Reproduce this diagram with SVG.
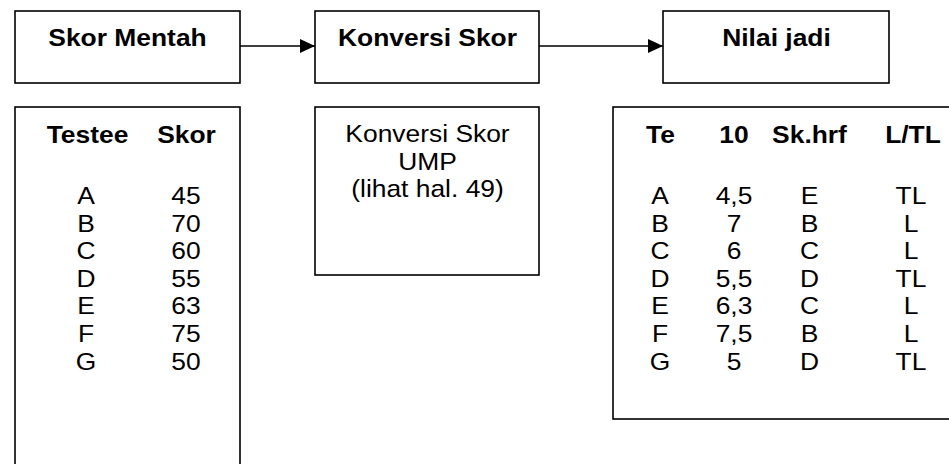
<svg xmlns="http://www.w3.org/2000/svg" width="949" height="464" viewBox="0 0 949 464">
<style>
.box{fill:#fff;stroke:#000;stroke-width:1.6}
.t{font-family:"Liberation Sans",Arial,sans-serif;font-size:24px;fill:#000;text-anchor:middle}
.b{font-weight:bold}
.con{stroke:#000;stroke-width:1.6;fill:none}
</style>
<defs>
<marker id="ah" markerUnits="userSpaceOnUse" markerWidth="16" markerHeight="14" refX="15" refY="7" orient="auto">
<path d="M0,0 L15,7 L0,14 z" fill="#000"/>
</marker>
</defs>
<rect width="949" height="464" fill="#fff"/>
<g id="connectors">
<line class="con" x1="240" y1="46" x2="315" y2="46" marker-end="url(#ah)"/>
<line class="con" x1="539" y1="46" x2="663" y2="46" marker-end="url(#ah)"/>
</g>
<g id="skor-mentah">
<rect class="box" x="15" y="11" width="225" height="72"/>
<text class="t b" transform="translate(127.5,46) scale(1.1,1)">Skor Mentah</text>
</g>
<g id="konversi-skor">
<rect class="box" x="315" y="11" width="224" height="72"/>
<text class="t b" transform="translate(427.5,46) scale(1.1,1)">Konversi Skor</text>
</g>
<g id="nilai-jadi">
<rect class="box" x="663" y="11" width="226" height="72"/>
<text class="t b" transform="translate(776.5,46) scale(1.1,1)">Nilai jadi</text>
</g>
<g id="tabel-skor">
<rect class="box" x="15" y="107" width="225" height="380"/>
<text class="t b" transform="translate(87.5,143) scale(1.1,1)">Testee</text>
<text class="t b" transform="translate(186.5,143) scale(1.1,1)">Skor</text>
<text class="t" transform="translate(86,204) scale(1.1,1)">A</text>
<text class="t" transform="translate(186,204) scale(1.1,1)">45</text>
<text class="t" transform="translate(86,231.6) scale(1.1,1)">B</text>
<text class="t" transform="translate(186,231.6) scale(1.1,1)">70</text>
<text class="t" transform="translate(86,259.2) scale(1.1,1)">C</text>
<text class="t" transform="translate(186,259.2) scale(1.1,1)">60</text>
<text class="t" transform="translate(86,286.8) scale(1.1,1)">D</text>
<text class="t" transform="translate(186,286.8) scale(1.1,1)">55</text>
<text class="t" transform="translate(86,314.4) scale(1.1,1)">E</text>
<text class="t" transform="translate(186,314.4) scale(1.1,1)">63</text>
<text class="t" transform="translate(86,342) scale(1.1,1)">F</text>
<text class="t" transform="translate(186,342) scale(1.1,1)">75</text>
<text class="t" transform="translate(86,369.6) scale(1.1,1)">G</text>
<text class="t" transform="translate(186,369.6) scale(1.1,1)">50</text>
</g>
<g id="konversi-ump">
<rect class="box" x="315" y="107" width="224" height="168"/>
<text class="t" transform="translate(427.5,142) scale(1.1,1)">Konversi Skor</text>
<text class="t" transform="translate(427.5,170) scale(1.1,1)">UMP</text>
<text class="t" transform="translate(427.5,197) scale(1.1,1)">(lihat hal. 49)</text>
</g>
<g id="tabel-nilai">
<rect class="box" x="613" y="107" width="400" height="312"/>
<text class="t b" transform="translate(660.5,143) scale(1.1,1)">Te</text>
<text class="t b" transform="translate(734,143) scale(1.1,1)">10</text>
<text class="t b" transform="translate(809.5,143) scale(1.1,1)">Sk.hrf</text>
<text class="t b" transform="translate(913,143) scale(1.1,1)">L/TL</text>
<g>
<text class="t" transform="translate(660,204) scale(1.1,1)">A</text>
<text class="t" transform="translate(734,204) scale(1.1,1)">4,5</text>
<text class="t" transform="translate(809.5,204) scale(1.1,1)">E</text>
<text class="t" transform="translate(911,204) scale(1.1,1)">TL</text>
<text class="t" transform="translate(660,231.6) scale(1.1,1)">B</text>
<text class="t" transform="translate(734,231.6) scale(1.1,1)">7</text>
<text class="t" transform="translate(809.5,231.6) scale(1.1,1)">B</text>
<text class="t" transform="translate(911,231.6) scale(1.1,1)">L</text>
<text class="t" transform="translate(660,259.2) scale(1.1,1)">C</text>
<text class="t" transform="translate(734,259.2) scale(1.1,1)">6</text>
<text class="t" transform="translate(809.5,259.2) scale(1.1,1)">C</text>
<text class="t" transform="translate(911,259.2) scale(1.1,1)">L</text>
<text class="t" transform="translate(660,286.8) scale(1.1,1)">D</text>
<text class="t" transform="translate(734,286.8) scale(1.1,1)">5,5</text>
<text class="t" transform="translate(809.5,286.8) scale(1.1,1)">D</text>
<text class="t" transform="translate(911,286.8) scale(1.1,1)">TL</text>
<text class="t" transform="translate(660,314.4) scale(1.1,1)">E</text>
<text class="t" transform="translate(734,314.4) scale(1.1,1)">6,3</text>
<text class="t" transform="translate(809.5,314.4) scale(1.1,1)">C</text>
<text class="t" transform="translate(911,314.4) scale(1.1,1)">L</text>
<text class="t" transform="translate(660,342) scale(1.1,1)">F</text>
<text class="t" transform="translate(734,342) scale(1.1,1)">7,5</text>
<text class="t" transform="translate(809.5,342) scale(1.1,1)">B</text>
<text class="t" transform="translate(911,342) scale(1.1,1)">L</text>
<text class="t" transform="translate(660,369.6) scale(1.1,1)">G</text>
<text class="t" transform="translate(734,369.6) scale(1.1,1)">5</text>
<text class="t" transform="translate(809.5,369.6) scale(1.1,1)">D</text>
<text class="t" transform="translate(911,369.6) scale(1.1,1)">TL</text>
</g>
</g>
</svg>
